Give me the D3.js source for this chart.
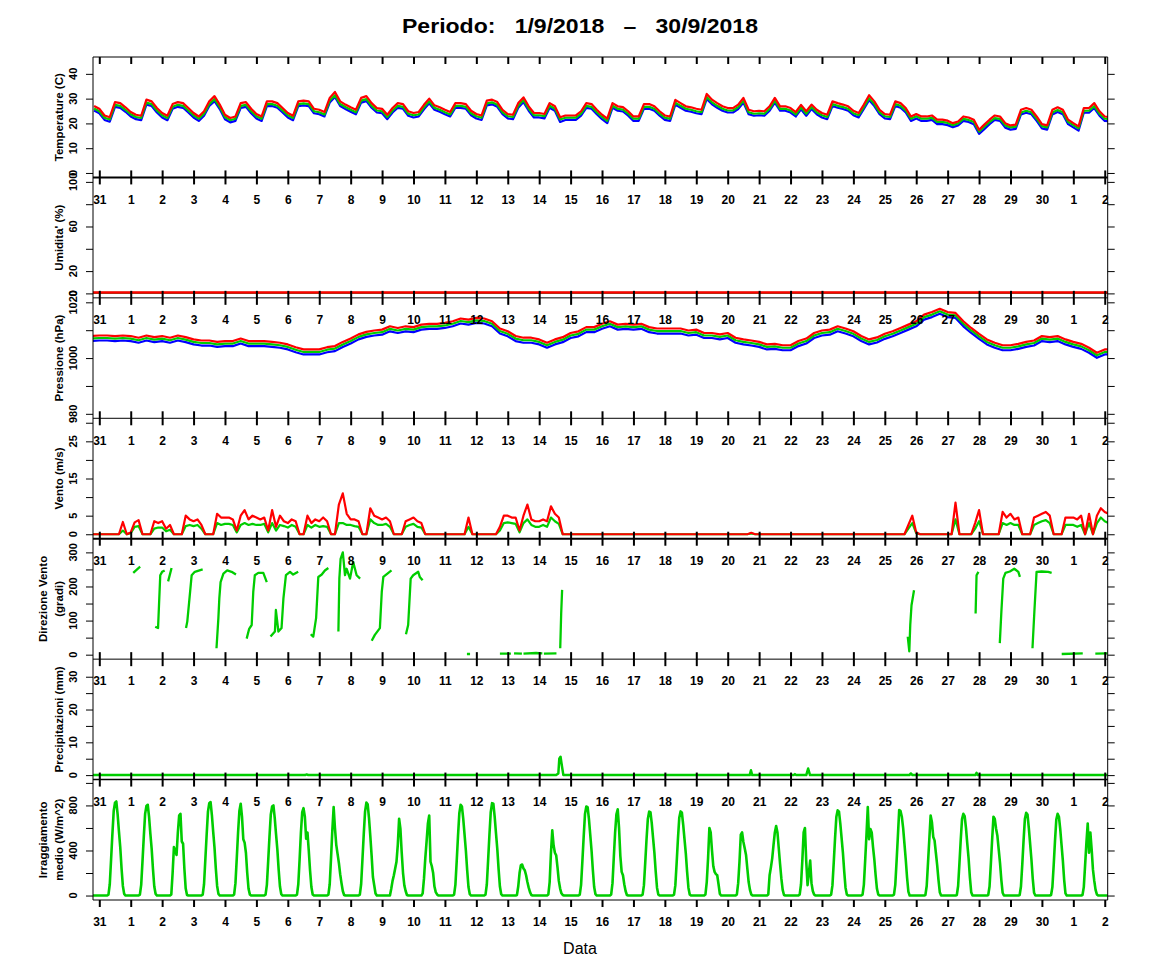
<!DOCTYPE html>
<html lang="it">
<head>
<meta charset="UTF-8">
<title>Periodo 1/9/2018 - 30/9/2018</title>
<script src="https://cdn.jsdelivr.net/npm/d3@7/dist/d3.min.js"></script>
<style>
  body { margin: 0; background: #fff; }
  svg { display: block; font-family: "Liberation Sans", Arial, Helvetica, sans-serif; }
  .title { white-space: pre; }
</style>
</head>
<body>
<script>
// time is in days from 31/8/2018 00:00
const tempStart = -4 / 24, tempStep = 4;   // every 4 hours
const presStart = -6 / 24, presStep = 6;   // every 6 hours
const windStart = -6 / 24, windStep = 3;   // every 3 hours

const tempMax = [27.0,
  25.9,23.2,22.5,28.6,28.2,26.5, 24.6,23.5,23.1,29.6,28.9,26.2, 24.2,23.1,27.8,28.6,28.2,26.2,
  24.2,22.8,24.9,28.9,31.0,27.6, 23.5,22.2,22.8,28.2,28.6,25.9, 23.8,22.8,28.9,28.9,28.2,26.2,
  24.2,23.1,28.9,29.2,28.9,25.9, 25.5,24.6,30.3,32.7,28.9,27.6, 26.5,25.5,30.3,31.0,28.2,26.2,
  25.9,23.5,26.2,28.2,27.8,24.9, 24.2,24.6,27.5,30.0,27.3,26.5, 25.5,24.6,28.2,28.2,27.8,25.1,
  23.8,23.2,29.2,29.6,28.6,25.5, 23.8,23.5,28.2,30.5,26.9,24.2, 24.2,23.8,28.2,26.9,22.5,23.2,
  23.2,23.2,24.9,28.2,27.8,25.5, 23.5,21.9,28.2,26.9,26.6,24.9, 22.8,22.8,27.8,27.8,26.9,24.9,
  23.2,22.8,29.5,28.2,26.9,26.5, 25.9,25.5,31.9,29.6,28.2,26.9, 26.2,26.2,27.6,30.3,25.5,24.9,
  25.1,24.9,26.9,30.3,26.9,26.9, 26.2,24.6,27.5,24.9,27.6,25.5, 24.2,23.5,28.9,28.2,27.6,26.9,
  25.1,24.2,27.6,31.4,28.9,25.5, 23.8,23.5,28.9,28.2,26.2,22.8, 23.8,22.8,22.8,23.2,21.5,21.5,
  21.1,20.1,20.8,22.8,22.4,21.5, 17.4,19.5,21.5,23.2,22.8,20.1, 19.2,19.5,25.5,26.2,25.5,22.8,
  19.7,19.2,25.5,26.5,25.5,21.5, 20.1,18.8,26.2,26.2,28.2,24.9,
  22.8,22.6];
const tempAvg = [26.0,
  24.9,22.3,21.6,27.5,27.1,25.5, 23.7,22.6,22.2,28.4,27.8,25.2, 23.3,22.2,26.7,27.5,27.1,25.2,
  23.3,21.9,23.9,27.8,29.8,26.6, 22.6,21.3,21.9,27.1,27.5,24.9, 22.9,21.9,27.8,27.8,27.1,25.2,
  23.3,22.2,27.8,28.1,27.8,24.9, 24.5,23.6,29.2,31.4,27.8,26.6, 25.5,24.5,29.2,29.8,27.1,25.2,
  24.9,22.6,25.2,27.1,26.7,23.9, 23.3,23.6,26.5,28.9,26.3,25.5, 24.5,23.6,27.1,27.1,26.7,24.1,
  22.9,22.3,28.1,28.5,27.5,24.5, 22.9,22.6,27.1,29.4,25.9,23.3, 23.3,22.9,27.1,25.9,21.6,22.3,
  22.3,22.3,23.9,27.1,26.7,24.5, 22.6,21.0,27.1,25.9,25.6,23.9, 21.9,21.9,26.7,26.7,25.9,23.9,
  22.3,21.9,28.4,27.1,25.9,25.5, 24.9,24.5,30.7,28.5,27.1,25.9, 25.2,25.2,26.6,29.2,24.5,23.9,
  24.1,23.9,25.9,29.2,25.9,25.9, 25.2,23.6,26.5,23.9,26.6,24.5, 23.3,22.6,27.8,27.1,26.6,25.9,
  24.1,23.3,26.6,30.2,27.8,24.5, 22.9,22.6,27.8,27.1,25.2,21.9, 22.9,21.9,21.9,22.2,20.6,20.6,
  20.2,19.3,20.0,21.8,21.4,20.6, 16.7,18.7,20.5,22.1,21.8,19.2, 18.4,18.7,24.4,25.1,24.5,21.9,
  18.9,18.4,24.4,25.4,24.5,20.6, 19.3,18.0,25.1,25.1,27.0,23.9,
  21.9,21.7];
const tempMin = [25.2,
  24.1,21.4,20.7,26.7,26.3,24.7, 22.8,21.7,21.3,27.6,27.0,24.4, 22.4,21.3,25.9,26.7,26.3,24.4,
  22.4,21.0,23.1,27.0,29.0,25.8, 21.7,20.4,21.0,26.3,26.7,24.1, 22.0,21.0,27.0,27.0,26.3,24.4,
  22.4,21.3,27.0,27.3,27.0,24.1, 23.7,22.8,28.4,30.7,27.0,25.8, 24.7,23.7,28.4,29.0,26.3,24.4,
  24.1,21.7,24.4,26.3,25.9,23.1, 22.4,22.8,25.7,28.1,25.5,24.7, 23.7,22.8,26.3,26.3,25.9,23.3,
  22.0,21.4,27.3,27.7,26.7,23.7, 22.0,21.7,26.3,28.6,25.1,22.4, 22.4,22.0,26.3,25.1,20.6,21.4,
  21.4,21.4,23.1,26.3,25.9,23.7, 21.7,20.1,26.3,25.1,24.8,23.1, 21.0,21.0,25.9,25.9,25.1,23.1,
  21.4,21.0,27.6,26.3,25.1,24.7, 24.1,23.7,29.9,27.7,26.3,25.1, 24.4,24.4,25.8,28.4,23.7,23.1,
  23.3,23.1,25.1,28.4,25.1,25.1, 24.4,22.8,25.7,23.1,25.8,23.7, 22.4,21.7,27.0,26.3,25.8,25.1,
  23.3,22.4,25.8,29.4,27.0,23.7, 22.0,21.7,27.0,26.3,24.4,21.0, 22.0,21.0,21.0,21.4,19.7,19.7,
  19.3,18.5,19.2,21.0,20.6,19.7, 15.8,17.7,19.7,21.4,21.0,18.3, 17.5,17.8,23.6,24.3,23.7,21.0,
  18.0,17.5,23.6,24.6,23.7,19.7, 18.4,17.1,24.3,24.3,26.2,23.1,
  21.0,20.8];

const humTime = [-0.2, 32.1];
const humMax = [0.8, 0.8];
const humAvg = [0.5, 0.5];
const humMin = [0.3, 0.3];

const presMax = [1007.9,
  1008.1,1008.1,1007.9,1008.1, 1007.9,1007.3,1008.1,1007.5, 1007.9,1007.3,1008.1,1007.5,
  1006.7,1006.3,1006.3,1005.8, 1006.1,1006.1,1007.0,1006.1, 1006.1,1006.1,1005.8,1005.5,
  1004.9,1003.9,1003.1,1003.1, 1003.1,1003.9,1004.3,1005.8, 1007.0,1008.5,1009.4,1009.9,
  1010.2,1011.4,1010.8,1011.4, 1011.1,1012.0,1012.3,1012.3, 1012.6,1013.2,1014.2,1013.8,
  1014.4,1014.2,1013.2,1010.6, 1009.6,1007.9,1007.3,1007.3, 1006.7,1005.5,1006.7,1007.5,
  1009.0,1009.6,1011.1,1011.1, 1012.3,1013.2,1012.0,1012.3, 1012.0,1012.3,1011.1,1010.6,
  1010.6,1010.6,1010.6,1009.9, 1010.2,1009.0,1009.0,1008.5, 1009.0,1007.3,1006.7,1006.3,
  1005.8,1004.9,1005.1,1004.6, 1004.6,1006.1,1007.0,1009.0, 1009.9,1010.2,1011.4,1010.6,
  1009.6,1007.9,1006.7,1007.4, 1008.7,1009.6,1010.8,1012.0, 1013.2,1015.6,1016.5,1017.7,
  1016.5,1016.2,1013.2,1010.8, 1008.7,1006.7,1005.5,1004.6, 1004.6,1005.1,1005.8,1006.3,
  1007.9,1007.5,1007.9,1006.7, 1005.8,1005.1,1003.7,1001.9,
  1003.1,1003.1];
const presAvg = [1007.0,
  1007.2,1007.2,1007.0,1007.2, 1007.0,1006.4,1007.2,1006.6, 1007.0,1006.4,1007.2,1006.6,
  1005.8,1005.4,1005.4,1004.9, 1005.2,1005.2,1006.1,1005.2, 1005.2,1005.2,1004.9,1004.6,
  1004.0,1003.0,1002.2,1002.2, 1002.2,1003.0,1003.4,1004.9, 1006.1,1007.6,1008.5,1009.0,
  1009.3,1010.5,1009.9,1010.5, 1010.2,1011.1,1011.4,1011.4, 1011.7,1012.3,1013.3,1012.9,
  1013.5,1013.3,1012.3,1009.7, 1008.7,1007.0,1006.4,1006.4, 1005.8,1004.6,1005.8,1006.6,
  1008.1,1008.7,1010.2,1010.2, 1011.4,1012.3,1011.1,1011.4, 1011.1,1011.4,1010.2,1009.7,
  1009.7,1009.7,1009.7,1009.0, 1009.3,1008.1,1008.1,1007.6, 1008.1,1006.4,1005.8,1005.4,
  1004.9,1004.0,1004.2,1003.7, 1003.7,1005.2,1006.1,1008.1, 1009.0,1009.3,1010.5,1009.7,
  1008.7,1007.0,1005.8,1006.5, 1007.8,1008.7,1009.9,1011.1, 1012.3,1014.7,1015.6,1016.8,
  1015.6,1015.3,1012.3,1009.9, 1007.8,1005.8,1004.6,1003.7, 1003.7,1004.2,1004.9,1005.4,
  1007.0,1006.6,1007.0,1005.8, 1004.9,1004.2,1002.8,1001.0,
  1002.2,1002.2];
const presMin = [1006.1,
  1006.3,1006.3,1006.1,1006.3, 1006.1,1005.5,1006.3,1005.7, 1006.1,1005.5,1006.3,1005.7,
  1004.9,1004.5,1004.5,1004.0, 1004.3,1004.3,1005.2,1004.3, 1004.3,1004.3,1004.0,1003.7,
  1003.1,1002.1,1001.3,1001.3, 1001.3,1002.1,1002.5,1004.0, 1005.2,1006.7,1007.6,1008.1,
  1008.4,1009.6,1009.0,1009.6, 1009.3,1010.2,1010.5,1010.5, 1010.8,1011.4,1012.4,1012.0,
  1012.6,1012.4,1011.4,1008.8, 1007.8,1006.1,1005.5,1005.5, 1004.9,1003.7,1004.9,1005.7,
  1007.2,1007.8,1009.3,1009.3, 1010.5,1011.4,1010.2,1010.5, 1010.2,1010.5,1009.3,1008.8,
  1008.8,1008.8,1008.8,1008.1, 1008.4,1007.2,1007.2,1006.7, 1007.2,1005.5,1004.9,1004.5,
  1004.0,1003.1,1003.3,1002.8, 1002.8,1004.3,1005.2,1007.2, 1008.1,1008.4,1009.6,1008.8,
  1007.8,1006.1,1004.9,1005.6, 1006.9,1007.8,1009.0,1010.2, 1011.4,1013.8,1014.7,1015.9,
  1014.7,1014.4,1011.4,1009.0, 1006.9,1004.9,1003.7,1002.8, 1002.8,1003.3,1004.0,1004.5,
  1006.1,1005.7,1006.1,1004.9, 1004.0,1003.3,1001.9,1000.1,
  1001.3,1001.3];

const windGust = [0,0,
  0,0,0,0,0,0,3.3,0,           0.5,3.2,3.8,0,0,0,3.5,3.0,   3.5,1.5,2.5,0,0,0,5.0,4.0,
  3.5,4.0,2.5,0,0,0,5.5,4.5,   4.5,4.5,4.0,1.0,5.0,6.5,4.0,5.0, 4.5,4.0,4.5,1.0,6.5,2.0,5.0,3.5,
  3.0,4.0,3.5,0,0,5.0,3.0,4.0, 3.5,4.5,3.5,0,0,8.0,11.0,5.5, 4.0,4.0,3.5,0,0,7.0,5.0,4.5,
  4.0,4.5,3.5,0,0,0,3.5,4.0,   4.5,3.5,3.0,0,0,0,0,0,       0,0,0,0,0,0,4.5,0,
  0,0,0,0,0,0,2.0,5.0,         5.0,4.5,4.5,1.0,5.0,8.0,4.0,3.5, 3.5,4.0,3.5,7.5,5.5,4.5,0,0,
  0,0,0,0,0,0,0,0,             0,0,0,0,0,0,0,0,             0,0,0,0,0,0,0,0,
  0,0,0,0,0,0,0,0,             0,0,0,0,0,0,0,0,             0,0,0,0,0,0,0.4,0,
  0,0,0,0,0,0,0,0,             0,0,0,0,0,0,0,0,             0,0,0,0,0,0,0,0,
  0,0,0,0,0,0,0,0,             0,0,0,0,0,0,2.5,5.0,         0.5,0,0,0,0,0,0,0,
  0,0,8.5,0,0,0,0,3.0,         6.5,0,0,0,0,0,6.0,4.5,       5.5,4.0,4.5,0,0,0,4.5,5.0,
  5.5,6.0,5.0,0,0,0,4.5,4.5,   4.5,4.0,5.0,0,5.5,0,5.0,7.0,
  6.0,5.5];
const windAvg = [0,0,
  0,0,0,0,0,0,1.0,0,           0.3,2.0,2.2,0,0,0,1.5,1.8,   1.8,0.8,1.2,0,0,0,2.2,2.5,
  2.2,2.5,1.5,0,0,0,3.0,2.5,   2.8,2.8,2.5,0.5,2.5,3.0,2.5,2.8, 2.5,2.5,2.8,0.5,3.0,1.0,2.5,2.2,
  1.8,2.5,2.0,0,0,2.5,1.8,2.5, 2.0,2.2,2.0,0,0,3.0,3.0,2.5,  2.5,2.2,2.0,0,0,4.0,3.0,2.5,
  2.5,2.8,2.0,0,0,0,2.0,2.5,   2.8,2.0,1.8,0,0,0,0,0,       0,0,0,0,0,0,2.0,0,
  0,0,0,0,0,0,1.0,3.0,         3.2,3.0,2.8,0.5,3.0,4.0,2.5,2.0, 2.0,2.5,2.0,4.5,3.5,2.8,0,0,
  0,0,0,0,0,0,0,0,             0,0,0,0,0,0,0,0,             0,0,0,0,0,0,0,0,
  0,0,0,0,0,0,0,0,             0,0,0,0,0,0,0,0,             0,0,0,0,0,0,0.2,0,
  0,0,0,0,0,0,0,0,             0,0,0,0,0,0,0,0,             0,0,0,0,0,0,0,0,
  0,0,0,0,0,0,0,0,             0,0,0,0,0,0,1.5,3.0,         0.3,0,0,0,0,0,0,0,
  0,0,4.0,0,0,0,0,1.5,         3.5,0,0,0,0,0,3.0,2.5,       3.0,2.5,2.5,0,0,0,2.5,3.0,
  3.5,3.8,3.0,0,0,0,2.5,2.5,   2.5,2.0,2.5,0,3.0,0,3.0,4.5,
  3.5,3.0];

// wind direction, null = no reading (calm)
const dirTime = [
  1.08,1.15,1.3, null, 1.78,1.87,1.9,1.94,2.0,2.08, null, 2.19,2.3, null,
  2.76,2.8,2.89,2.94,3.04,3.29, null, 3.73,3.79,3.82,3.86,3.95,4.07,4.21,4.35, null,
  4.69,4.77,4.85,4.9,4.95,5.06,5.22,5.33, null, 5.45,5.59,5.62,5.7,5.8,5.86,5.94,6.07,6.17,6.33, null,
  6.73,6.81,6.9,6.97,7.08,7.18,7.29, null, 7.61,7.64,7.68,7.75,7.82,7.87,7.98,8.08,8.19,8.3, null,
  8.67,8.77,8.93,8.99,9.04,9.2,9.3, null, 9.76,9.83,9.91,9.99,10.15,10.2,10.29, null,
  11.7,11.8, null, 12.75,13.1, null, 13.2,13.45, null, 13.5,13.9,14.1, null, 14.15,14.55, null,
  14.67,14.7,14.73, null, 25.73,25.78,25.81,25.85,25.93, null, 27.89,27.92,27.98, null,
  28.66,28.71,28.77,28.84,28.98,29.12,29.25,29.3, null, 29.7,29.76,29.83,29.99,30.2,30.31, null,
  30.63,31.3, null, 31.7,32.09];
const dirValue = [
  240,246,258, null, 82,78,145,233,243,247, null, 215,254, null,
  78,97,184,233,243,250, null, 19,107,165,213,238,247,243,235, null,
  47,76,87,184,233,240,240,213, null, 53,68,131,68,78,165,233,243,235,243, null,
  60,53,107,228,235,247,254, null, 68,223,281,300,233,252,223,272,233,223, null,
  41,58,78,184,228,240,247, null, 60,87,223,233,243,228,218, null,
  2,2, null, 3,3, null, 4,3, null, 3,5,4, null, 3,4, null,
  19,120,190, null, 53,10,87,145,189, null, 121,233,243, null,
  34,126,223,240,244,252,243,228, null, 19,126,243,244,243,240, null,
  2,4, null, 3,4];

const rainTime = [-0.2, 6.55,6.6,6.65, 14.54,14.61,14.64,14.68,14.72,14.77, 20.7,20.74,20.78,
  22.1,22.14,22.18, 22.5,22.56,22.62, 25.78,25.83,25.88, 27.88,27.92,27.96, 32.1];
const rainValue = [0, 0,0.2,0, 0,0.5,5.0,5.6,3.0,0, 0,1.5,0,
  0,0.3,0, 0,2.0,0, 0,0.5,0, 0,0.7,0, 0];

// solar radiation, one row per day (31/8 .. 1/10), hours 6..20
const radHours = [6,7,8,9,10,11,12,13,14,15,16,17,18,19,20];
const radDays = [
  [0,8,100,320,545,750,825,835,720,570,430,240,85,15,0],
  [0,8,95,305,525,725,795,806,700,550,415,235,80,15,0],
  [0,10,200,430,400,360,560,710,726,480,460,236,62,5,0],
  [0,8,100,320,540,745,820,830,715,565,425,240,85,15,0],
  [0,10,110,330,560,750,815,700,500,470,380,200,60,10,0],
  [0,8,95,305,525,720,790,800,690,545,410,230,80,12,0],
  [0,8,100,320,560,740,776,700,505,560,400,220,75,10,0],
  [0,8,100,330,580,785,600,450,370,290,190,110,40,5,0],
  [0,8,100,320,545,745,825,810,690,530,357,165,92,18,0],
  [0,60,130,180,240,300,450,682,593,380,200,90,40,5,0],
  [0,20,150,330,480,640,711,300,260,200,80,30,10,0,0],
  [0,8,95,305,530,730,806,790,680,540,400,225,75,12,0],
  [0,8,98,315,540,740,820,815,700,555,415,235,80,12,0],
  [0,5,80,200,270,275,240,224,180,120,70,30,5,0,0],
  [0,10,120,380,579,446,380,357,250,130,62,20,5,0,0],
  [0,8,95,305,525,725,790,785,680,540,400,225,75,12,0],
  [0,10,110,340,560,720,765,600,350,210,180,100,40,5,0],
  [0,8,90,290,500,680,745,740,640,510,380,215,70,10,0],
  [0,8,90,290,505,690,747,735,630,500,375,210,70,10,0],
  [0,10,120,330,600,560,400,260,210,190,180,100,15,0,0],
  [0,10,110,300,540,560,475,420,360,240,120,50,10,0,0],
  [0,10,180,250,330,450,560,617,560,420,280,150,50,5,0],
  [0,10,100,310,560,600,300,92,200,310,110,40,10,0,0],
  [0,8,90,295,510,700,756,745,640,510,380,215,70,10,0],
  [0,8,95,310,540,785,500,590,560,430,320,180,60,10,0],
  [0,8,95,305,530,760,750,700,600,460,320,160,35,0,0],
  [0,5,85,290,500,711,650,520,490,380,270,140,30,0,0],
  [0,5,85,285,495,680,726,705,600,460,330,160,30,0,0],
  [0,5,80,280,500,700,680,593,530,410,290,140,25,0,0],
  [0,5,80,275,490,680,735,720,600,460,320,150,25,0,0],
  [0,5,75,270,485,675,726,700,590,450,310,140,20,0,0],
  [0,5,75,270,470,640,380,560,410,230,130,50,10,0,0]];
const radEdgeTime = [-0.2, 32.1];
const radEdgeValue = [0, 0];

// axis ticks and the labels that are printed
const tempTicks = [0,10,20,30,40],           tempLabels = [0,10,20,30,40];
const humTicks = [0,20,40,60,80,100],        humLabels = [0,20,60,100];
const presTicks = [980,990,1000,1010,1020],  presLabels = [980,1000,1020];
const windTicks = [0,5,10,15,20,25,30],      windLabels = [0,5,15,25];
const dirTicks = [0,50,100,150,200,250,300], dirLabels = [0,100,200,300];
const rainTicks = [0,5,10,15,20,25,30],      rainLabels = [0,10,20,30];
const radTicks = [0,200,400,600,800,1000],   radLabels = [0,400,800];

const RED = "#ff0000", GREEN = "#00cd00", BLUE = "#0000ff";
const base = Date.UTC(2018, 7, 31);
const toDate = d => new Date(base + d * 864e5);

function regular(values, start, stepHours) {
  return values.map((v, i) => ({ t: toDate(start + i * stepHours / 24), v: v }));
}
function paired(times, values) {
  return times.map((t, i) => ({ t: t == null ? null : toDate(t), v: values[i] }));
}

let radSeries = [{ t: toDate(radEdgeTime[0]), v: radEdgeValue[0] }];
radDays.forEach((row, d) => {
  row.forEach((v, j) => radSeries.push({ t: toDate(d + radHours[j] / 24), v: v }));
});
radSeries.push({ t: toDate(radEdgeTime[1]), v: radEdgeValue[1] });

// series: [points, colour, line width]
const panels = [
  { title: ["Temperature (C)"], lim: [0, 45], ticks: tempTicks, labels: tempLabels,
    series: [[regular(tempMin, tempStart, tempStep), BLUE, 2.2], [regular(tempAvg, tempStart, tempStep), GREEN, 2.2], [regular(tempMax, tempStart, tempStep), RED, 2.2]] },
  { title: ["Umidita' (%)"], lim: [0, 100], ticks: humTicks, labels: humLabels,
    series: [[paired(humTime, humMin), BLUE, 2], [paired(humTime, humAvg), GREEN, 2], [paired(humTime, humMax), RED, 2.5]] },
  { title: ["Pressione (hPa)"], lim: [980, 1020], ticks: presTicks, labels: presLabels,
    series: [[regular(presMin, presStart, presStep), BLUE, 2.2], [regular(presAvg, presStart, presStep), GREEN, 2.2], [regular(presMax, presStart, presStep), RED, 2.2]] },
  { title: ["Vento (m/s)"], lim: [0, 30], ticks: windTicks, labels: windLabels,
    series: [[regular(windAvg, windStart, windStep), GREEN, 2.2], [regular(windGust, windStart, windStep), RED, 2.2]] },
  { title: ["Direzione Vento", "(gradi)"], lim: [0, 327], ticks: dirTicks, labels: dirLabels,
    series: [[paired(dirTime, dirValue), GREEN, 2.3]] },
  { title: ["Precipitazioni (mm)"], lim: [0, 34], ticks: rainTicks, labels: rainLabels,
    series: [[paired(rainTime, rainValue), GREEN, 2.5]] },
  { title: ["Irraggiamento", "medio (W/m^2)"], lim: [0, 990], ticks: radTicks, labels: radLabels,
    series: [[radSeries, GREEN, 2.6]] }
];

const W = 1152, H = 972;
const plotL = 93, plotR = 1107.7, plotT = 57, plotB = 900;
const ph = (plotB - plotT) / panels.length;
const borderWidth = [1, 2, 1, 1, 2, 1, 1.5, 1];

const svg = d3.select("body").append("svg")
    .attr("width", W)
    .attr("height", H);

const x = d3.scaleUtc()
    .domain([toDate(-0.2005), toDate(32.094)])
    .range([plotL, plotR]);
const days = d3.utcDay.range(toDate(0), toDate(32.5));
const dayFmt = d3.utcFormat("%-d");

panels.forEach((p, k) => {
  const y0 = plotT + k * ph, y1 = y0 + ph;
  const pad = 0.04 * (p.lim[1] - p.lim[0]);
  const y = d3.scaleLinear()
      .domain([p.lim[0] - pad, p.lim[1] + pad])
      .range([y1, y0]);

  svg.append("clipPath").attr("id", "clip" + k)
    .append("rect")
      .attr("x", plotL).attr("y", y0)
      .attr("width", plotR - plotL).attr("height", ph);

  const plot = svg.append("g").attr("clip-path", "url(#clip" + k + ")");
  const line = d3.line()
      .defined(d => d.t != null && d.v != null)
      .x(d => x(d.t))
      .y(d => y(d.v));
  p.series.forEach(s => {
    plot.append("path")
        .datum(s[0])
        .attr("fill", "none")
        .attr("stroke", s[1])
        .attr("stroke-width", s[2])
        .attr("stroke-linejoin", "round")
        .attr("d", line);
  });

  svg.append("g")
      .attr("transform", "translate(" + plotL + ",0)")
      .call(d3.axisLeft(y).tickValues(p.ticks).tickSize(7).tickFormat(""))
      .call(g => g.select(".domain").remove());
  svg.append("g")
      .attr("transform", "translate(" + plotR + ",0)")
      .call(d3.axisRight(y).tickValues(p.ticks).tickSize(7).tickFormat(""))
      .call(g => g.select(".domain").remove());

  svg.append("g").selectAll("text")
    .data(p.labels)
    .join("text")
      .attr("transform", d => "translate(77," + y(d) + ") rotate(-90)")
      .attr("text-anchor", "middle")
      .attr("font-size", 11)
      .attr("font-weight", "bold")
      .text(d => d);

  const yc = (y0 + y1) / 2;
  const bases = p.title.length === 1 ? [62.5] : [46.5, 62.5];
  p.title.forEach((t, i) => {
    svg.append("text")
        .attr("transform", "translate(" + bases[i] + "," + yc + ") rotate(-90)")
        .attr("text-anchor", "middle")
        .attr("font-size", 11.5)
        .attr("font-weight", "bold")
        .text(t);
  });
});

// panel borders and the day axes on each border
for (let b = 0; b <= panels.length; b++) {
  const yb = plotT + b * ph;
  svg.append("line")
      .attr("x1", plotL).attr("x2", plotR)
      .attr("y1", yb).attr("y2", yb)
      .attr("stroke", "#000")
      .attr("stroke-width", borderWidth[b]);

  const ax = svg.append("g")
      .attr("transform", "translate(0," + yb + ")")
      .call(d3.axisBottom(x).tickValues(days).tickSize(7).tickPadding(10.8)
        .tickFormat(b === 0 ? "" : dayFmt));
  ax.select(".domain").remove();
  ax.attr("font-family", null).attr("font-size", 12).attr("font-weight", "bold");
  ax.selectAll(".tick line").attr("stroke-width", 2);
  if (b > 0 && b < panels.length) ax.selectAll(".tick line").attr("y1", -7);
}

svg.append("line")
    .attr("x1", plotL).attr("x2", plotL)
    .attr("y1", plotT).attr("y2", plotB)
    .attr("stroke", "#000");
svg.append("line")
    .attr("x1", plotR).attr("x2", plotR)
    .attr("y1", plotT).attr("y2", plotB)
    .attr("stroke", "#000");

svg.append("text")
    .attr("class", "title")
    .attr("x", 580)
    .attr("y", 33)
    .attr("text-anchor", "middle")
    .attr("font-size", 21)
    .attr("font-weight", "bold")
    .attr("textLength", 356)
    .attr("lengthAdjust", "spacingAndGlyphs")
    .text("Periodo:   1/9/2018   \u2013   30/9/2018");

svg.append("text")
    .attr("x", 580)
    .attr("y", 954)
    .attr("text-anchor", "middle")
    .attr("font-size", 16)
    .text("Data");
</script>
</body>
</html>
